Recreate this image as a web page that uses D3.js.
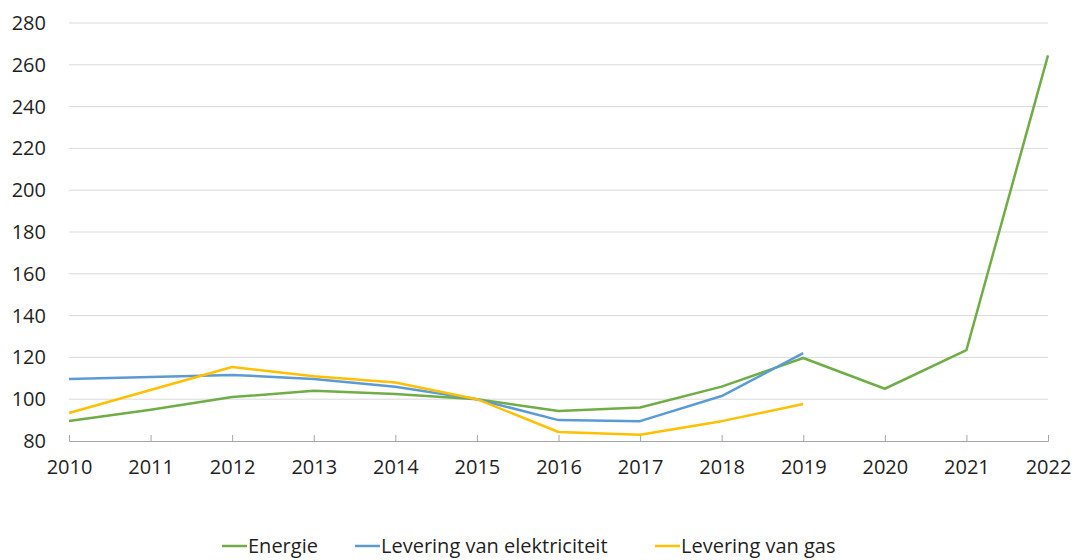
<!DOCTYPE html>
<html>
<head>
<meta charset="utf-8">
<script src="https://cdn.jsdelivr.net/npm/d3@7"></script>
<style>
    body { margin: 0; background: #fff; }
    text { font-family: "Open Sans", "Liberation Sans", sans-serif; fill: #1f1f1f; }
</style>
</head>
<body>
<div id="chart"></div>
<script>
// data
var years = [2010, 2011, 2012, 2013, 2014, 2015, 2016, 2017, 2018, 2019, 2020, 2021, 2022];
var energie = [89.6, 95, 101, 104, 102.5, 100, 94.4, 96, 106, 119.7, 105, 123.5, 264.5];
var elektriciteit = [109.7, 110.6, 111.6, 109.7, 106, 100, 90, 89.5, 101.5, 122];
var gas = [93.4, 104.4, 115.4, 111, 108, 100, 84.3, 83, 89.5, 97.7];
var yTicks = [80, 100, 120, 140, 160, 180, 200, 220, 240, 260, 280];

var seriesNames = ["Energie", "Levering van elektriciteit", "Levering van gas"];
var seriesValues = [energie, elektriciteit, gas];
var colors = ["#70AD47", "#5B9BD5", "#FFC000"];

var width = 1081;
var height = 560;
var margin = {top: 23, bottom: 119, left: 69, right: 33};

var svg = d3.select("#chart").append("svg").attr("width", width).attr("height", height);

// scales
var xscale = d3.scalePoint()
    .domain(years)
    .range([margin.left, width - margin.right]);

var yscale = d3.scaleLinear()
    .domain([80, 280])
    .range([height - margin.bottom, margin.top]);

// gridlines
svg.selectAll(".grid").data(yTicks.slice(1)).enter().append("line")
    .attr("x1", margin.left)
    .attr("x2", width - margin.right)
    .attr("y1", function(d) { return yscale(d); })
    .attr("y2", function(d) { return yscale(d); })
    .attr("stroke", "#d9d9d9")
    .attr("stroke-width", 1);

// y labels
svg.selectAll(".ylab").data(yTicks).enter().append("text")
    .attr("x", 46)
    .attr("y", function(d) { return yscale(d); })
    .attr("dy", "0.35em")
    .attr("text-anchor", "end")
    .style("font-size", "20px")
    .text(function(d) { return d; });

// x axis, ticks pointing up into the plot
var xaxis = d3.axisBottom(xscale).tickSizeInner(-6).tickSizeOuter(-6).tickPadding(19);
var gx = svg.append("g")
    .attr("transform", "translate(0," + yscale(80) + ")")
    .call(xaxis);
gx.select(".domain").attr("stroke", "#a6a6a6");
gx.selectAll(".tick line").attr("stroke", "#a6a6a6");
gx.selectAll(".tick text")
    .style("font-size", "20px")
    .attr("fill", "#1f1f1f");

// lines
var line = d3.line()
    .x(function(d, i) { return xscale(years[i]); })
    .y(function(d) { return yscale(d); });

seriesValues.forEach(function(vals, k) {
    svg.append("path")
        .datum(vals)
        .attr("fill", "none")
        .attr("stroke", colors[k])
        .attr("stroke-width", 2.5)
        .attr("stroke-linejoin", "round")
        .attr("d", line);
});

// legend
var legendX = [222, 355, 655];
var legend = svg.selectAll(".legend").data(seriesNames).enter().append("g")
    .attr("transform", function(d, i) { return "translate(" + legendX[i] + ",546)"; });
legend.append("line")
    .attr("x1", 0).attr("x2", 25)
    .attr("stroke", function(d, i) { return colors[i]; })
    .attr("stroke-width", 2.5);
legend.append("text")
    .attr("x", 26)
    .attr("dy", "0.35em")
    .style("font-size", "20px")
    .text(function(d) { return d; });
</script>
</body>
</html>
